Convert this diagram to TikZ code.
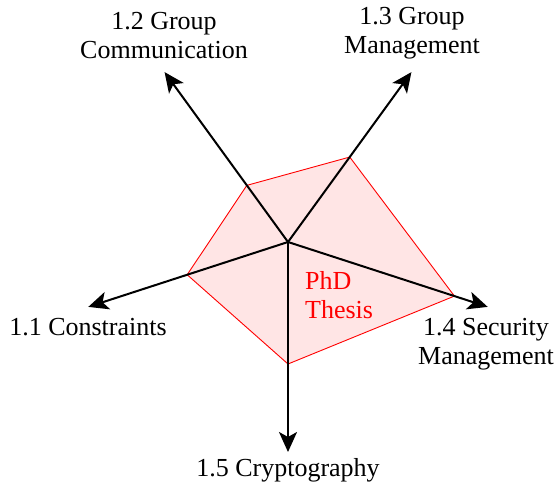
\documentclass[tikz,border=0pt]{standalone}
\usepackage{fontspec}
\setmainfont{Liberation Serif}
\usetikzlibrary{arrows.meta,calc}
\tikzset{
  axisarrow/.style={line width=2pt,-{Stealth[length=20pt,width=18pt,inset=5pt]}},
  lbl/.style={inner sep=0pt,align=center,font=\fontsize{26}{29}\selectfont},
  radar/.style={draw=red,line width=0.9pt,fill=red!10}
}
\begin{document}
\begin{tikzpicture}[x=1pt,y=1pt]
\useasboundingbox (0,0) rectangle (560,488);
\coordinate (O) at (288,246);
\coordinate (E1) at ($(O)+(198:210pt)$);
\coordinate (E2) at ($(O)+(126:210pt)$);
\coordinate (E3) at ($(O)+(54:210pt)$);
\coordinate (E4) at ($(O)+(-18:210pt)$);
\coordinate (E5) at ($(O)+(270:210pt)$);
\coordinate (P1) at ($(O)+(198:106pt)$);
\coordinate (P2) at ($(O)+(126:70pt)$);
\coordinate (P3) at ($(O)+(54:105pt)$);
\coordinate (P4) at ($(O)+(-18:175pt)$);
\coordinate (P5) at ($(O)+(270:122pt)$);
\draw[radar] (P1) -- (P2) -- (P3) -- (P4) -- (P5) -- cycle;
\foreach \e in {E1,E2,E3,E4,E5} \draw[axisarrow] (O) -- (\e);
\node[lbl] (L11) at (88,161) {1.1 Constraints};
\node[lbl] (L12) at (164,452) {1.2 Group\\Communication};
\node[lbl] (L13) at (412,455) {1.3 Group\\Management};
\node[lbl] (L14) at (486,144) {1.4 Security\\Management};
\node[lbl] (L15) at (288,18) {1.5 Cryptography};
\node[lbl,align=left,anchor=west,text=red] (T) at (305,193) {PhD\\Thesis};
\end{tikzpicture}
\end{document}
